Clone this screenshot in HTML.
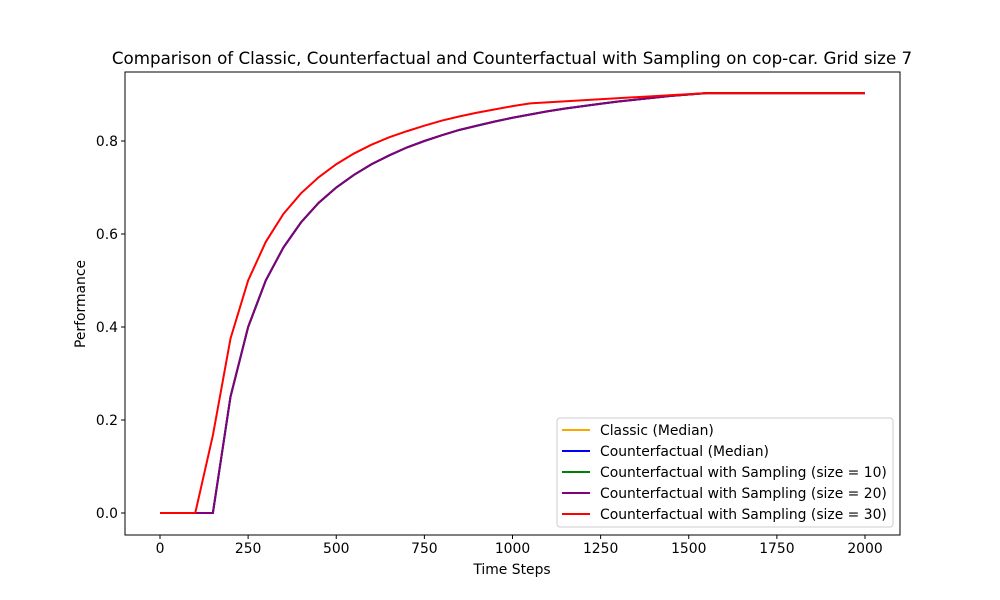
<!DOCTYPE html>
<html><head><meta charset="utf-8"><style>
body{margin:0;background:#fff}
svg{display:block;font-family:"DejaVu Sans","Liberation Sans",sans-serif}
</style></head><body>
<svg id="chart" width="1000" height="600">
<rect width="1000" height="600" fill="#fff"/>
<text x="512" y="64" font-size="16.7" text-anchor="middle">Comparison of Classic, Counterfactual and Counterfactual with Sampling on cop-car. Grid size 7</text>
<g id="series"></g>
<rect x="125" y="72" width="775" height="463" fill="none" stroke="#000" stroke-width="1"/>
<g id="xt"></g><g id="yt"></g>
<text x="512" y="574" font-size="13.9" text-anchor="middle">Time Steps</text>
<text transform="translate(85,304) rotate(-90)" font-size="13.9" text-anchor="middle">Performance</text>
<g id="legend">
<rect x="557" y="418" width="336" height="109" rx="3" fill="#fff" stroke="#ccc"/>
</g>
</svg>
<script>
const baseT = [0,50,100,150,200,250,300,350,400,450,500,550,600,650,700,750,800,850,900,950,1000,1050,1100,1150,1200,1250,1300,1350,1400,1450,1500,1550,2000];
const baseV = [0,0,0,0,0.25,0.40,0.50,0.571,0.625,0.667,0.70,0.727,0.75,0.769,0.786,0.80,0.8125,0.824,0.833,0.842,0.85,0.857,0.864,0.870,0.875,0.88,0.885,0.889,0.893,0.897,0.90,0.903,0.903];
const redT = [0,50,100,150,200,250,300,350,400,450,500,550,600,650,700,750,800,850,900,950,1000,1050,1550,2000];
const redV = [0,0,0,0.167,0.375,0.50,0.583,0.643,0.6875,0.722,0.75,0.773,0.792,0.808,0.821,0.833,0.844,0.853,0.861,0.868,0.875,0.881,0.903,0.903];
const seriesNames = ["Classic (Median)","Counterfactual (Median)","Counterfactual with Sampling (size = 10)","Counterfactual with Sampling (size = 20)","Counterfactual with Sampling (size = 30)"];
const seriesColors = ["orange","blue","green","purple","red"];
const xTicks = [0,250,500,750,1000,1250,1500,1750,2000];
const yTicks = [0,0.2,0.4,0.6,0.8];
const yTickLabels = ["0.0","0.2","0.4","0.6","0.8"];

const NS="http://www.w3.org/2000/svg";
const X=t=>160+t*(705/2000);
const Y=v=>513-v*465;
function mk(tag,attrs,parent){const e=document.createElementNS(NS,tag);for(const k in attrs)e.setAttribute(k,attrs[k]);parent.appendChild(e);return e;}
const sg=document.getElementById('series');
const data=[[baseT,baseV],[baseT,baseV],[baseT,baseV],[baseT,baseV],[redT,redV]];
data.forEach((d,i)=>{
  const pts=d[0].map((t,j)=>X(t).toFixed(2)+","+Y(d[1][j]).toFixed(2)).join(" ");
  const p=mk('polyline',{points:pts,fill:'none',stroke:seriesColors[i],'stroke-width':2},sg);
  
  
});
const xt=document.getElementById('xt');
xTicks.forEach(t=>{
  mk('line',{x1:X(t),x2:X(t),y1:535,y2:539,stroke:'#000'},xt);
  const tx=mk('text',{x:X(t),y:553,'font-size':13.9,'text-anchor':'middle'},xt);
  tx.textContent=t;
  
  
});
const yt=document.getElementById('yt');
yTicks.forEach((v,i)=>{
  mk('line',{x1:121,x2:125,y1:Y(v),y2:Y(v),stroke:'#000'},yt);
  const tx=mk('text',{x:118,y:Y(v)+5,'font-size':13.9,'text-anchor':'end'},yt);
  tx.textContent=yTickLabels[i];
  
  
});
const lg=document.getElementById('legend');
seriesNames.forEach((n,i)=>{
  const y=430+i*21;
  const g=mk('g',{},lg);
  
  
  mk('line',{x1:562,x2:590,y1:y,y2:y,stroke:seriesColors[i],'stroke-width':2},g);
  const tx=mk('text',{x:600,y:y+5,'font-size':13.9},g);
  tx.textContent=n;
});
</script>
</body></html>
